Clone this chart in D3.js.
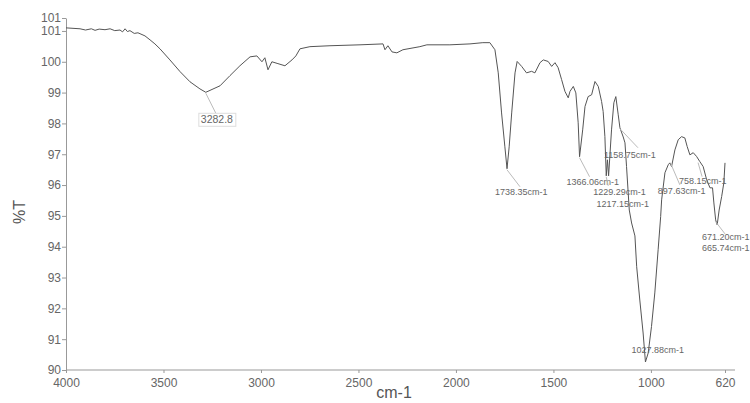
<!DOCTYPE html>
<html>
<head>
<meta charset="utf-8">
<title>IR spectrum</title>
<script src="https://cdn.jsdelivr.net/npm/d3@7"></script>
<style>
body { margin: 0; background: #fff; }
svg { font-family: "Liberation Sans", Arial, sans-serif; }
.axis path, .axis line { stroke: #999; }
.axis text { fill: #666; font-size: 12px; }
.spec { fill: none; stroke: #555; stroke-width: 1; }
.lead { stroke: #bbb; stroke-width: 1; }
.plab { fill: #666; font-size: 9px; }
</style>
</head>
<body>
<svg width="750" height="403"></svg>
<script>
// spectrum: wavenumber (cm-1) and %T
var wavenumber = [4000, 3928, 3900, 3870, 3851, 3830, 3800, 3774, 3750, 3723, 3710, 3697, 3685, 3672, 3650, 3631,
  3595, 3569, 3544, 3518, 3467, 3415, 3364, 3313, 3283, 3210, 3159, 3108, 3056, 3021, 2995, 2980, 2964,
  2944, 2913, 2877, 2841, 2821, 2800, 2749, 2646, 2492, 2374, 2364, 2349, 2328, 2303, 2272, 2185, 2149,
  2031, 1928, 1862, 1826, 1800, 1783, 1766, 1749, 1738, 1727, 1714, 1697, 1686, 1663, 1638, 1612, 1595,
  1569, 1552, 1527, 1509, 1492, 1476, 1458, 1441, 1424, 1415, 1398, 1385, 1373, 1366, 1350, 1338, 1322,
  1304, 1287, 1270, 1253, 1245, 1236, 1229, 1223, 1217, 1202, 1190, 1180, 1168, 1159, 1142, 1133, 1125,
  1111, 1099, 1082, 1073, 1057, 1040, 1028, 1014, 997, 980, 963, 950, 945, 928, 911, 903, 894, 877, 860,
  843, 826, 814, 800, 783, 766, 749, 732, 714, 697, 684, 677, 668, 660, 650, 637, 626, 620];
var transmit = [101.10, 101.07, 101.03, 101.07, 101.02, 101.06, 101.04, 101.07, 101.01, 101.03, 100.97, 101.07,
  100.98, 101.01, 100.92, 100.94, 100.84, 100.71, 100.58, 100.42, 100.06, 99.68, 99.35, 99.12, 99.01, 99.22,
  99.55, 99.87, 100.16, 100.19, 100.00, 100.13, 99.74, 100.00, 99.94, 99.87, 100.06, 100.19, 100.42, 100.49,
  100.52, 100.55, 100.58, 100.39, 100.52, 100.32, 100.29, 100.39, 100.49, 100.55, 100.55, 100.58, 100.62,
  100.62, 100.39, 99.64, 98.34, 97.24, 96.53, 97.24, 98.34, 99.64, 100.01, 99.85, 99.64, 99.69, 99.64, 99.97,
  100.06, 100.01, 99.85, 99.97, 99.81, 99.42, 99.04, 98.83, 99.04, 99.20, 98.99, 98.02, 96.92, 97.79, 98.55,
  98.87, 98.93, 99.36, 99.20, 98.71, 98.39, 97.57, 96.30, 96.82, 96.30, 97.79, 98.67, 98.87, 98.30, 97.86,
  97.56, 97.37, 96.60, 95.19, 94.77, 94.35, 93.35, 92.27, 91.20, 90.26, 90.55, 91.41, 92.50, 93.90, 94.98,
  95.52, 96.40, 96.66, 96.72, 96.60, 97.14, 97.47, 97.57, 97.53, 97.25, 96.98, 97.05, 96.93, 96.76, 96.60,
  96.17, 95.91, 95.91, 95.42, 94.87, 94.71, 95.19, 95.63, 96.07, 96.72];

// peak labels
var peakWn = [3282.8, 1738.35, 1366.06, 1229.29, 1217.15, 1158.75, 1027.88, 897.63, 758.15, 671.20, 665.74];
var peakT = [99.01, 96.53, 96.92, 96.30, 96.30, 97.86, 90.26, 96.72, 96.76, 94.87, 94.71];
var peakText = ["3282.8", "1738.35cm-1", "1366.06cm-1", "1229.29cm-1", "1217.15cm-1", "1158.75cm-1",
  "1027.88cm-1", "897.63cm-1", "758.15cm-1", "671.20cm-1", "665.74cm-1"];
// label placement relative to the peak (text start, baseline, leader end)
var labelPos = [
  {dx: -5, dy: 31, lx: 10, ly: 21},
  {dx: -12, dy: 26, lx: 13, ly: 18},
  {dx: -13, dy: 28, lx: 10, ly: 20},
  {dx: -13, dy: 19, lx: 2, ly: 10},
  {dx: -12, dy: 31, lx: 0, ly: 0},
  {dx: -16, dy: 30, lx: 18, ly: 20},
  {dx: -14, dy: -9, lx: 0, ly: 0},
  {dx: -13, dy: 31, lx: 9, ly: 22},
  {dx: -19, dy: 22, lx: 4, ly: 15},
  {dx: -13, dy: 20, lx: 10, ly: 14},
  {dx: -14, dy: 26, lx: 0, ly: 0}
];

var xTicks = [4000, 3500, 3000, 2500, 2000, 1500, 1000, 620];
var yTicks = [90, 91, 92, 93, 94, 95, 96, 97, 98, 99, 100, 101, 101.42];

var svg = d3.select("svg");

var x = d3.scaleLinear().domain([4000, 620]).range([66, 725]);
var y = d3.scaleLinear().domain([90, 101.42]).range([370, 18]);

var data = wavenumber.map(function(w, i) { return {w: w, t: transmit[i]}; });

svg.append("g")
    .attr("class", "axis")
    .attr("transform", "translate(0," + y(90) + ")")
    .call(d3.axisBottom(x).tickValues(xTicks).tickSize(3).tickSizeOuter(0)
      .tickFormat(d3.format("d")))
  .call(function(g) {
    g.select(".domain").attr("d", "M" + x(4000) + ",0H735");
    g.selectAll("text").attr("dy", "0.9em");
  });

svg.append("g")
    .attr("class", "axis")
    .attr("transform", "translate(" + x(4000) + ",0)")
    .call(d3.axisLeft(y).tickValues(yTicks).tickSize(4).tickSizeOuter(0)
      .tickFormat(d3.format(".0f")))
  .call(function(g) { g.selectAll("text").attr("x", -5); });

svg.append("text")
    .attr("x", 394).attr("y", 398)
    .attr("text-anchor", "middle")
    .style("font-size", "16px").style("fill", "#555")
    .text("cm-1");

svg.append("text")
    .attr("transform", "translate(25,212) rotate(-90)")
    .attr("text-anchor", "middle")
    .style("font-size", "16px").style("fill", "#555")
    .text("%T");

var line = d3.line()
    .x(function(d) { return x(d.w); })
    .y(function(d) { return y(d.t); });

svg.append("path").datum(data).attr("class", "spec").attr("d", line);

// peak annotations
var ann = svg.append("g").selectAll("g")
    .data(peakWn.map(function(w, i) {
      return {w: w, t: peakT[i], txt: peakText[i], p: labelPos[i]};
    }))
  .enter().append("g");

ann.filter(function(d) { return d.p.lx || d.p.ly; })
  .append("line")
    .attr("class", "lead")
    .attr("x1", function(d) { return x(d.w); })
    .attr("y1", function(d) { return y(d.t) + 1; })
    .attr("x2", function(d) { return x(d.w) + d.p.lx; })
    .attr("y2", function(d) { return y(d.t) + d.p.ly; });

ann.append("text")
    .attr("class", "plab")
    .attr("x", function(d) { return x(d.w) + d.p.dx; })
    .attr("y", function(d) { return y(d.t) + d.p.dy; })
    .style("font-size", function(d, i) { return i === 0 ? "10.5px" : null; })
    .text(function(d) { return d.txt; });

// box around the first label
var first = ann.filter(function(d, i) { return i === 0; });
first.insert("rect", "text")
    .attr("x", function(d) { return x(d.w) + d.p.dx - 2; })
    .attr("y", function(d) { return y(d.t) + d.p.dy - 10; })
    .attr("width", 37).attr("height", 13)
    .attr("fill", "#fff").attr("stroke", "#ddd");
</script>
</body>
</html>
